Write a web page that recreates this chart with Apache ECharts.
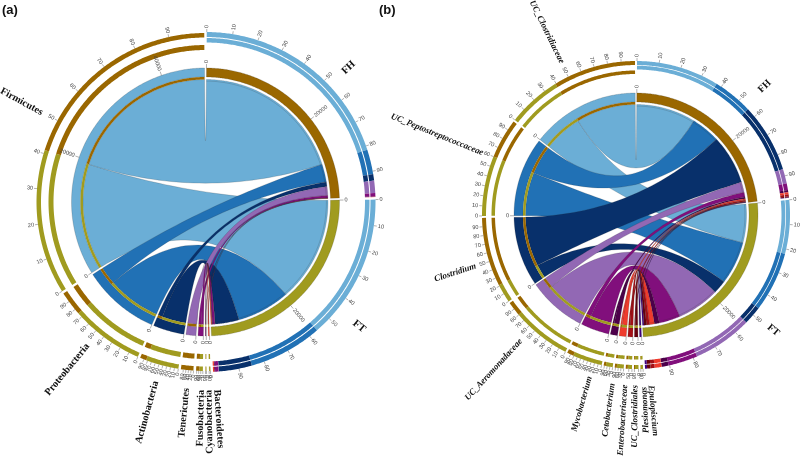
<!DOCTYPE html>
<html><head><meta charset="utf-8">
<style>html,body{margin:0;padding:0;background:#fff}#c{width:800px;height:458px}</style>
<script src="https://cdn.jsdelivr.net/npm/echarts@6/dist/echarts.min.js"></script>
</head><body><div id="c"></div>
<script>
// ---------- data (reads per group / taxon) ----------
const groups = ['FH', 'FT'];
const taxaA = ['Firmicutes', 'Proteobacteria', 'Actinobacteria', 'Tenericutes', 'Fusobacteria', 'Cyanobacteria', 'Bacteroidetes'];
const fhA = [27900, 3300, 860, 1650, 450, 40, 30];
const ftA = [19400, 9800, 4400, 40, 450, 110, 170];
const taxaB = ['UC_Clostridiaceae', 'UC_Peptostreptococcaceae', 'Clostridium', 'UC_Aeromonadaceae', 'Mycobacterium', 'Cetobacterium', 'Enterobacteriaceae', 'UC_Clostridiales', 'Plesiomonas', 'Epulopiscium'];
const fhB = [12000, 5800, 10000, 2100, 960, 320, 300, 300, 150, 60];
const ftB = [7800, 8700, 2700, 8600, 4280, 1000, 1000, 600, 500, 300];
const percentTicks = [0, 10, 20, 30, 40, 50, 60, 70, 80, 90];
const readTickValues = [0, 20000, 40000];

// ---------- styling / layout ----------
const groupColors = ['#9A6700', '#A09B1F'];
const taxonColors = ['#6BAED6', '#2171B5', '#08306B', '#9268B4', '#810F7C', '#4D004B', '#EF3B2C', '#A50F15', '#67000D', '#3F007D'];
const layoutA = {
  cx: 205.5, cy: 202, chord: 122.5, strip: 125, ring: 134,
  gOuter: [165, 170], gInner: [159.5, 164], tOuter: [164.5, 169], tInner: [152, 157],
  tickIn: 138, labIn: 139, gap: 0.85, font: 'bold 10.2px "Liberation Serif"', groupFont: 'bold 10.5px "Liberation Serif"',
  pctSteps: [1, 1, 1, 2, 3, 9, 9],
  titles: [[298.6, 186], [219.5, 185], [195.5, 186], [185.8, 187], [181.3, 188], [179, 188, 1], [176.5, 188]],
  groupTitles: [[46.8, 189], [129, 191]], tag: '(a)', tagX: 2
};
const layoutB = {
  cx: 636, cy: 215, chord: 110.5, strip: 113, ring: 122,
  gOuter: [150, 154], gInner: [145.5, 149.3], tOuter: [150, 154], tInner: [141, 144.5],
  tickIn: 126, labIn: 127, gap: 0.75, font: 'italic bold 8.9px "Liberation Serif"', groupFont: 'bold 10px "Liberation Serif"',
  pctSteps: [1, 1, 1, 1, 1, 3, 3, 5, 9, 9],
  titles: [[334, 169], [292, 165], [252.3, 168], [222.6, 170], [196, 168], [188, 170], [183.7, 170], [180.3, 170], [177.3, 172, 1], [175, 171]],
  groupTitles: [[45, 175], [130, 173]], tag: '(b)', tagX: 379
};
const tickColor = '#666';
const edge = 'rgba(40,40,40,0.45)';

function buildPanel(taxa, fh, ft, L, polarIndex) {
  const sum = a => a.reduce((p, c) => p + c, 0);
  const n = taxa.length;
  const totalReads = 2 * (sum(fh) + sum(ft));
  const gapReads = totalReads * L.gap / (360 - L.gap * (n + 2));
  const gapHalf = gapReads / 2;
  const axisMin = -gapHalf, axisMax = totalReads + gapReads * (n + 2) - gapHalf;
  const deg = t => axisMin + t / 360 * (axisMax - axisMin);
  const theta = a => (a - axisMin) / (axisMax - axisMin) * 360;
  const marks = [];
  // sector starts
  let pos = 0;
  const startFH = pos; pos += sum(fh) + gapReads;
  const startFT = pos; pos += sum(ft) + gapReads;
  const taxonStart = new Array(n);
  for (let i = n - 1; i >= 0; i--) { taxonStart[i] = pos; pos += fh[i] + ft[i] + gapReads; }
  // allocation inside group sectors
  let aFH = startFH, aFT = startFT;
  const spans = taxa.map((_, i) => {
    const s = { fh: [aFH, aFH + fh[i]], ft: [aFT, aFT + ft[i]],
      tft: [taxonStart[i], taxonStart[i] + ft[i]], tfh: [taxonStart[i] + ft[i], taxonStart[i] + ft[i] + fh[i]] };
    aFH += fh[i]; aFT += ft[i];
    return s;
  });
  // ribbons
  taxa.forEach((_, i) => {
    marks.push({ k: 'ribbon', a: spans[i].ft, b: spans[i].tft, color: taxonColors[i] });
    marks.push({ k: 'ribbon', a: spans[i].fh, b: spans[i].tfh, color: taxonColors[i] });
  });
  // group sectors
  const groupSpans = [[startFH, startFH + sum(fh)], [startFT, startFT + sum(ft)]];
  groupSpans.forEach((s, g) => {
    marks.push({ k: 'arc', r: [L.strip, L.ring], s, color: groupColors[g], stroke: edge });
    const pct = v => s[0] + v / 100 * (s[1] - s[0]);
    readTickValues.forEach(v => { if (s[0] + v <= s[1]) marks.push({ k: 'tick', a: s[0] + v, r0: L.ring, r1: L.tickIn, rl: L.labIn, text: String(v) }); });
    percentTicks.forEach(v => marks.push({ k: 'tick', a: pct(v), r0: L.gOuter[1], r1: L.gOuter[1] + 3, rl: L.gOuter[1] + 4, text: String(v) }));
    const flows = g === 0 ? fh : ft;
    let acc = s[0];
    flows.forEach((f, i) => {
      [L.gOuter, L.gInner].forEach(r => marks.push({ k: 'arc', r, s: [acc, acc + f], color: taxonColors[i] }));
      acc += f;
    });
    marks.push({ k: 'title', t: deg(L.groupTitles[g][0]), r: L.groupTitles[g][1], text: groups[g], font: L.groupFont });
  });
  // taxon sectors
  taxa.forEach((name, i) => {
    const st = taxonStart[i], total = fh[i] + ft[i];
    const s = [st, st + total];
    marks.push({ k: 'arc', r: [L.strip, L.ring], s, color: taxonColors[i], stroke: edge });
    marks.push({ k: 'arc', r: [L.chord, L.strip], s: spans[i].tft, color: groupColors[1] });
    marks.push({ k: 'arc', r: [L.chord, L.strip], s: spans[i].tfh, color: groupColors[0] });
    [L.tOuter, L.tInner].forEach(r => {
      marks.push({ k: 'arc', r, s: spans[i].tft, color: groupColors[1] });
      marks.push({ k: 'arc', r, s: spans[i].tfh, color: groupColors[0] });
    });
    readTickValues.forEach(v => { if (v <= total) marks.push({ k: 'tick', a: st + v, r0: L.ring, r1: L.tickIn, rl: L.labIn, text: String(v) }); });
    percentTicks.forEach((v, j) => {
      if (j % L.pctSteps[i] === 0) marks.push({ k: 'tick', a: st + v / 100 * total, r0: L.tOuter[1], r1: L.tOuter[1] + 3, rl: L.tOuter[1] + 4, text: String(v) });
    });
    const tt = L.titles[i];
    marks.push({ k: 'title', t: deg(tt[0]), r: tt[1], text: name, font: L.font, forceLeft: !!tt[2] });
  });

  function radialLabel(api, a, r, text, font, fill, forceLeft) {
    const p = api.coord([r, a]);
    const t = ((theta(a) % 360) + 360) % 360;
    const left = forceLeft || t >= 180;
    const rot = (left ? 270 - t : 90 - t) * Math.PI / 180;
    return { type: 'text', x: p[0], y: p[1], rotation: rot, silent: true,
      style: { text, font, fill, align: left ? 'right' : 'left', verticalAlign: 'middle' } };
  }
  function arcPoints(api, r, a0, a1) {
    const steps = Math.max(1, Math.ceil(Math.abs(theta(a1) - theta(a0)) / 0.5));
    const pts = [];
    for (let i = 0; i <= steps; i++) pts.push(api.coord([r, a0 + (a1 - a0) * i / steps]));
    return pts;
  }
  function quad(p0, c, p1) {
    const pts = [];
    for (let i = 1; i < 40; i++) {
      const u = i / 40, v = 1 - u;
      pts.push([v * v * p0[0] + 2 * v * u * c[0] + u * u * p1[0], v * v * p0[1] + 2 * v * u * c[1] + u * u * p1[1]]);
    }
    return pts;
  }
  function renderItem(params, api) {
    const m = marks[params.dataIndex];
    if (m.k === 'ribbon') {
      if (m.a[1] - m.a[0] <= 0) return null;
      const A = arcPoints(api, L.chord, m.a[0], m.a[1]);
      const B = arcPoints(api, L.chord, m.b[0], m.b[1]);
      const c = api.coord([0, 0]);
      const pts = A.concat(quad(A[A.length - 1], c, B[0]), B, quad(B[B.length - 1], c, A[0]));
      return { type: 'group', silent: true, children: [
        { type: 'polygon', shape: { points: pts }, style: { fill: m.color, stroke: edge, lineWidth: 0.4 } },
        { type: 'polyline', shape: { points: arcPoints(api, L.chord - 1.6, m.a[0], m.a[1]) }, style: { fill: null, stroke: edge, lineWidth: 0.4 } }
      ] };
    }
    if (m.k === 'arc') {
      if (m.s[1] - m.s[0] <= 0) return null;
      const pts = arcPoints(api, m.r[1], m.s[0], m.s[1]).concat(arcPoints(api, m.r[0], m.s[1], m.s[0]));
      return { type: 'polygon', silent: true, shape: { points: pts },
        style: { fill: m.color, stroke: m.stroke || null, lineWidth: m.stroke ? 0.4 : 0 } };
    }
    if (m.k === 'tick') {
      const p0 = api.coord([m.r0, m.a]), p1 = api.coord([m.r1, m.a]);
      return { type: 'group', silent: true, children: [
        { type: 'line', shape: { x1: p0[0], y1: p0[1], x2: p1[0], y2: p1[1] }, style: { stroke: tickColor, lineWidth: 0.5 } },
        radialLabel(api, m.a, m.rl, m.text, '5.6px "Liberation Sans"', '#444')
      ] };
    }
    if (m.k === 'title') return radialLabel(api, m.t, m.r, m.text, m.font, '#111', m.forceLeft);
    return null;
  }
  return {
    polar: { center: [L.cx, L.cy], radius: 240 },
    radiusAxis: { polarIndex, show: false, type: 'value', min: 0, max: 240 },
    angleAxis: { polarIndex, show: false, type: 'value', min: axisMin, max: axisMax, startAngle: 90 },
    series: { type: 'custom', coordinateSystem: 'polar', polarIndex, silent: true, animation: false, clip: false,
      renderItem, data: marks.map(() => [0, 0]) },
    tag: { type: 'text', left: L.tagX, top: 4, style: { text: L.tag, font: 'bold 13px "Liberation Sans"', fill: '#111' } }
  };
}

const pa = buildPanel(taxaA, fhA, ftA, layoutA, 0);
const pb = buildPanel(taxaB, fhB, ftB, layoutB, 1);
const chart = echarts.init(document.getElementById('c'), null, { renderer: 'canvas' });
chart.setOption({
  animation: false,
  backgroundColor: '#fff',
  polar: [pa.polar, pb.polar],
  radiusAxis: [pa.radiusAxis, pb.radiusAxis],
  angleAxis: [pa.angleAxis, pb.angleAxis],
  series: [pa.series, pb.series],
  graphic: [pa.tag, pb.tag]
});
</script></body></html>
